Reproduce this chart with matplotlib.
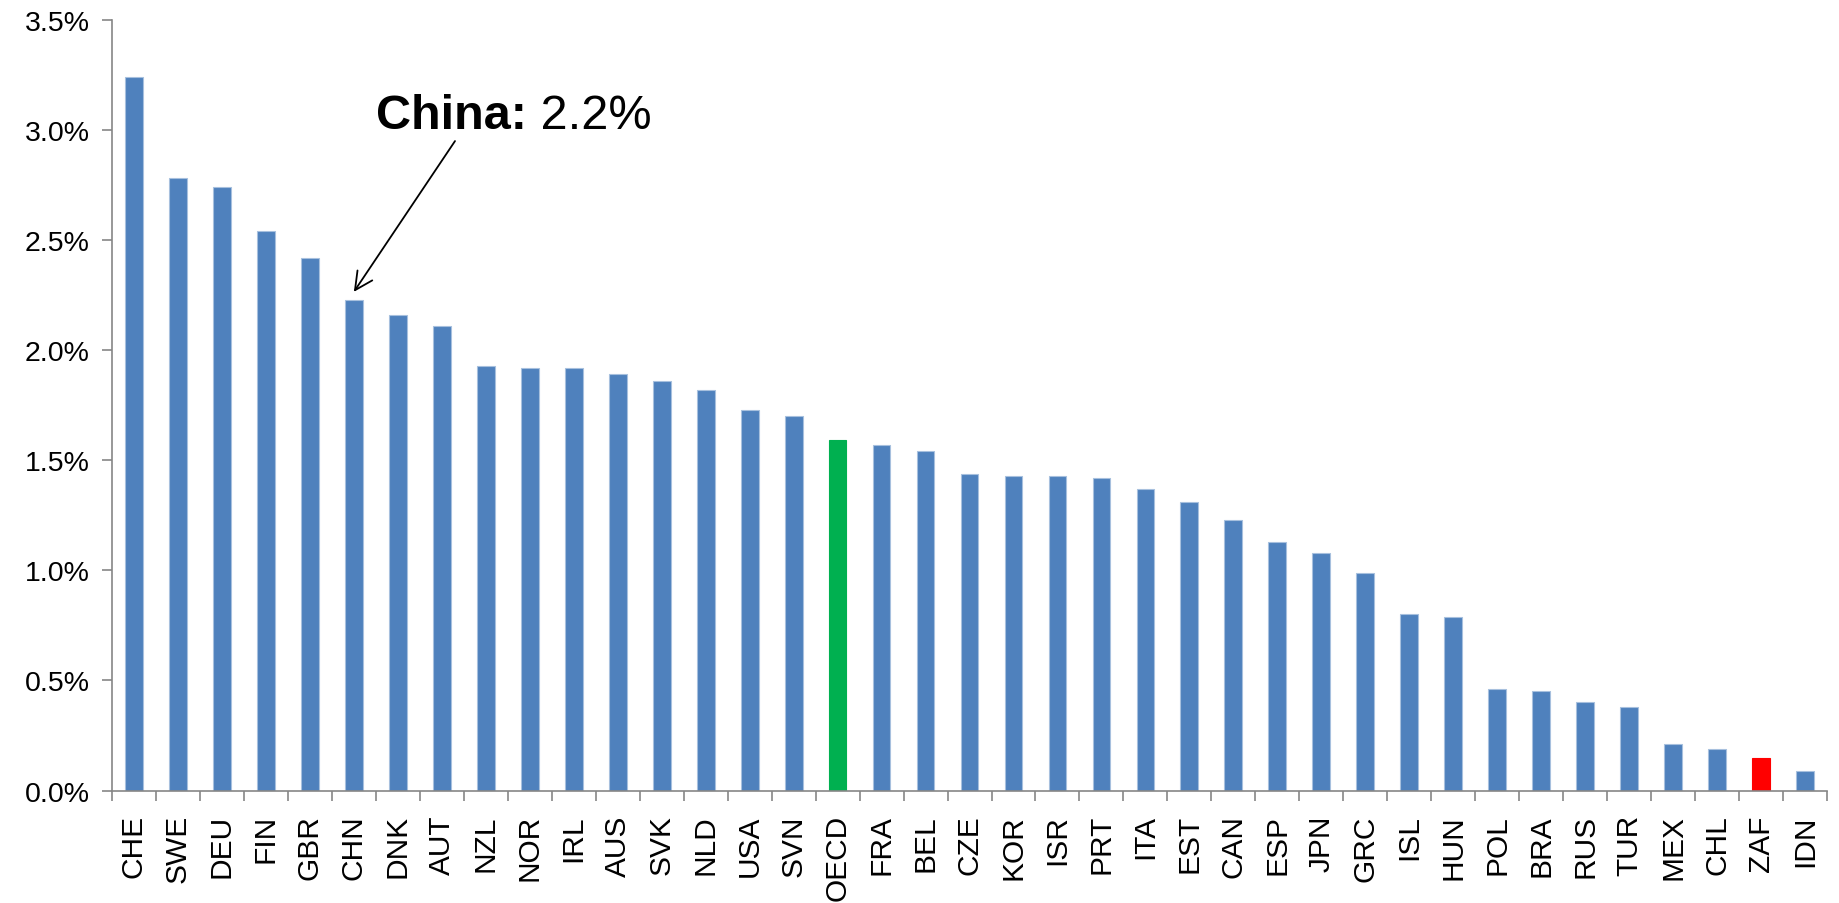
import matplotlib
matplotlib.use("Agg")
import matplotlib.pyplot as plt
from matplotlib.ticker import FuncFormatter, FixedLocator
import numpy as np

countries = ["CHE", "SWE", "DEU", "FIN", "GBR", "CHN", "DNK", "AUT", "NZL", "NOR",
             "IRL", "AUS", "SVK", "NLD", "USA", "SVN", "OECD", "FRA", "BEL", "CZE",
             "KOR", "ISR", "PRT", "ITA", "EST", "CAN", "ESP", "JPN", "GRC", "ISL",
             "HUN", "POL", "BRA", "RUS", "TUR", "MEX", "CHL", "ZAF", "IDN"]
values = [3.24, 2.78, 2.74, 2.54, 2.42, 2.23, 2.16, 2.11, 1.93, 1.92,
          1.92, 1.89, 1.86, 1.82, 1.73, 1.70, 1.59, 1.57, 1.54, 1.44,
          1.43, 1.43, 1.42, 1.37, 1.31, 1.23, 1.13, 1.08, 0.99, 0.80,
          0.79, 0.46, 0.45, 0.40, 0.38, 0.21, 0.19, 0.15, 0.09]
highlight = {"OECD": "#00B050", "ZAF": "#FF0000"}
base_color = "#4F81BD"

plt.rcParams['font.family'] = ['Liberation Sans', 'DejaVu Sans']

fig = plt.figure(figsize=(18.39, 9.04), dpi=100)
ax = fig.add_axes([0.0609, 0.1244, 0.9326, 0.8524])

x = np.arange(len(countries))
colors = [highlight.get(c, base_color) for c in countries]
edges = ["#A7C0DE" if c == base_color else c for c in colors]
ax.bar(x, values, width=0.405, color=colors, edgecolor=edges, linewidth=0.8, zorder=2)

ax.set_xlim(-0.5, len(countries) - 0.5)
ax.set_ylim(0, 3.5)
ax.set_yticks(np.arange(0, 3.51, 0.5))
ax.yaxis.set_major_formatter(FuncFormatter(lambda v, p: f"{v:.1f}%"))

ax.set_xticks(x)
ax.set_xticklabels(countries, rotation=90)
ax.xaxis.set_minor_locator(FixedLocator(np.arange(-0.5, len(countries), 1.0)))

spine_col = "#868686"
for s in ["top", "right"]:
    ax.spines[s].set_visible(False)
for s in ["left", "bottom"]:
    ax.spines[s].set_color(spine_col)
    ax.spines[s].set_linewidth(1.2)

ax.tick_params(axis="y", direction="out", length=7, width=1.2, color=spine_col,
               labelsize=20.5, pad=9)
ax.tick_params(axis="x", which="major", length=0, labelsize=21.5, pad=17)
ax.tick_params(axis="x", which="minor", direction="out", length=7, width=1.2,
               color=spine_col)

# annotation for China
chn = countries.index("CHN")
ax.annotate("", xy=(chn, values[chn] + 0.035), xytext=(chn + 2.3, 2.95),
            arrowprops=dict(arrowstyle="->", lw=1.3, color="black",
                            mutation_scale=32, shrinkA=0, shrinkB=0))
t1 = ax.text(chn + 0.5, 2.965, "China:", fontsize=35, fontweight="bold",
             va="bottom", ha="left")
ax.annotate(" 2.2%", xy=(1, 0), xycoords=t1, fontsize=35, va="bottom", ha="left")

plt.savefig("out.png", dpi=100)
